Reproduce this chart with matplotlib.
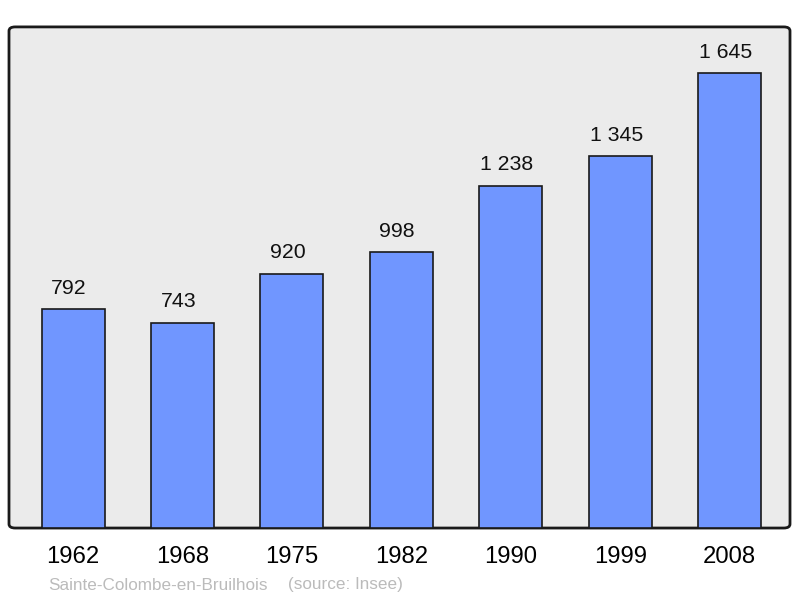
import matplotlib
matplotlib.use("Agg")
import matplotlib.pyplot as plt
from matplotlib.patches import FancyBboxPatch

years = ["1962", "1968", "1975", "1982", "1990", "1999", "2008"]
population = [792, 743, 920, 998, 1238, 1345, 1645]
town = "Sainte-Colombe-en-Bruilhois"
source = "(source: Insee)"

plt.rcParams["font.family"] = ["Liberation Sans", "DejaVu Sans"]

fig = plt.figure(figsize=(8, 5.98), dpi=100)
ax = fig.add_axes([0.01125, 0.117, 0.97625, 0.838])
ax.set_facecolor("none")

# rounded frame behind the bars
frame = FancyBboxPatch((0, 0), 1, 1, boxstyle="round,pad=0,rounding_size=0.008",
                       transform=ax.transAxes, facecolor="#ebebeb",
                       edgecolor="#1a1a1a", linewidth=2, zorder=0, clip_on=False)
ax.add_patch(frame)

x = list(range(len(years)))
ax.bar(x, population, width=0.575, color="#7096ff", edgecolor="#1a1a1a",
       linewidth=1.2, zorder=2)

for xi, v in zip(x, population):
    label = f"{v:,}".replace(",", " ")
    ax.annotate(label, (xi, v), xytext=(-3, 15), textcoords="offset points",
                ha="center", va="center", fontsize=15.3, color="#111111")

ax.set_xlim(-0.585, 6.55)
ax.set_ylim(0, 1812)
ax.set_xticks(x)
ax.set_xticklabels(years, fontsize=17.2)
ax.tick_params(axis="x", length=0, pad=13)
ax.set_yticks([])
for s in ax.spines.values():
    s.set_visible(False)

fig.text(48 / 800, 1 - 585 / 598, town, fontsize=12.3, color="#bbbbbb",
         ha="left", va="center")
fig.text(288 / 800, 1 - 585 / 598, source, fontsize=12.3, color="#bbbbbb",
         ha="left", va="center")

fig.savefig("out.png", dpi=100)
